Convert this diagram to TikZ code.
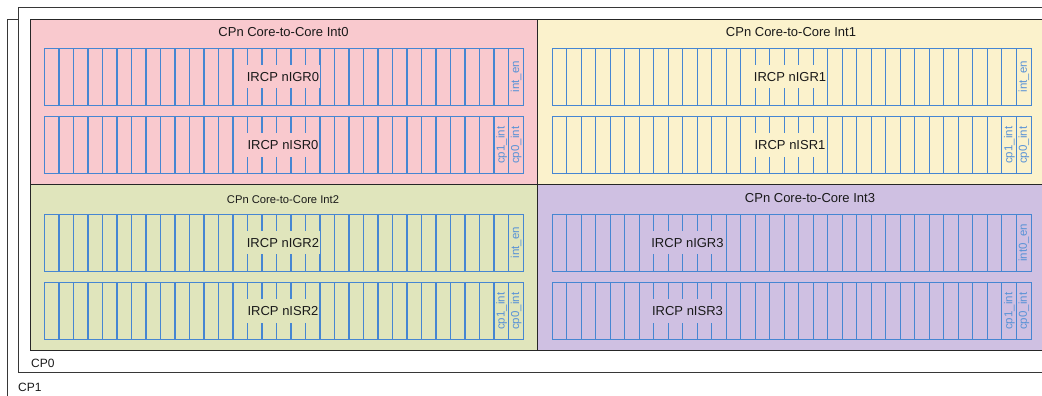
\documentclass[tikz,border=0pt]{standalone}
\usepackage{fontspec}
\setmainfont{Liberation Sans}
\definecolor{qpink}{RGB}{249,201,206}
\definecolor{qyellow}{RGB}{251,242,204}
\definecolor{qgreen}{RGB}{224,229,188}
\definecolor{qpurple}{RGB}{207,192,226}
\definecolor{regblue}{RGB}{70,134,210}
\definecolor{framegray}{RGB}{55,55,55}
\definecolor{txt}{RGB}{25,25,25}
\newcommand\myreg[4]{%
  \node[regbox] (#1) at (#2,#3) {};
  \foreach \i in {1,...,32}
    \draw[bitline] ([xshift=\i*14.5pt]#1.north west) -- ([xshift=\i*14.5pt]#1.south west);
  \draw[regline] (#1.north west) rectangle (#1.south east);
}
\begin{document}
\begin{tikzpicture}[x=1pt,y=-1pt,
  frame/.style={draw=framegray, line width=1.1pt, fill=white, anchor=north west, inner sep=0pt},
  quad/.style={draw=black!85, line width=1.3pt, anchor=north west, inner sep=0pt},
  regbox/.style={anchor=north west, minimum width=478.5pt, minimum height=56.5pt, inner sep=0pt},
  bitline/.style={draw=regblue, line width=1.1pt},
  regline/.style={draw=regblue, line width=1.3pt},
  reglbl/.style={text=txt, inner xsep=1pt, inner ysep=7pt, font=\fontsize{13}{15}\selectfont, text height=9.4pt, text depth=0pt},
  title/.style={text=txt, font=\fontsize{13}{15}\selectfont, inner sep=1pt},
  bitlbl/.style={text=regblue!90, rotate=90, font=\fontsize{11.5}{13}\selectfont, inner sep=0pt},
  cplbl/.style={text=txt, anchor=base west, font=\fontsize{12}{14}\selectfont, inner sep=0pt}]
\clip (0,0) rectangle (1042,396);
\fill[white] (0,0) rectangle (1042,396);
% frames
\node[frame, minimum width=1100pt, minimum height=420pt] (cp1) at (7,19) {};
\node[frame, minimum width=1100pt, minimum height=365pt] (cp0) at (18,7) {};
\node[cplbl] (cp0lbl) at (31,367) {CP0};
\node[cplbl] (cp1lbl) at (18,391) {CP1};
% quadrants
\node[quad, fill=qpink, minimum width=507pt, minimum height=165pt] (q0) at (30,19) {};
\node[quad, fill=qyellow, minimum width=509pt, minimum height=165pt] (q1) at (537,19) {};
\node[quad, fill=qgreen, minimum width=507pt, minimum height=166pt] (q2) at (30,184) {};
\node[quad, fill=qpurple, minimum width=509pt, minimum height=166pt] (q3) at (537,184) {};
% titles
\node[title] (t0) at (283.5,32) {CPn Core-to-Core Int0};
\node[title] (t1) at (791,32) {CPn Core-to-Core Int1};
\node[title, font=\fontsize{11.2}{13}\selectfont] (t2) at (283,199.5) {CPn Core-to-Core Int2};
\node[title] (t3) at (810,198.5) {CPn Core-to-Core Int3};
% registers
\myreg{igr0}{44.5}{48.3}{qpink}
\myreg{isr0}{44.5}{116.8}{qpink}
\myreg{igr1}{552.3}{48.3}{qyellow}
\myreg{isr1}{552.3}{116.8}{qyellow}
\myreg{igr2}{44.5}{214.3}{qgreen}
\myreg{isr2}{44.5}{282.8}{qgreen}
\myreg{igr3}{552.3}{214.3}{qpurple}
\myreg{isr3}{552.3}{282.8}{qpurple}
% register names
\node[reglbl, fill=qpink] (igr0t) at (283,76.5) {IRCP nIGR0};
\node[reglbl, fill=qpink] (isr0t) at (283,145) {IRCP nISR0};
\node[reglbl, fill=qyellow] (igr1t) at (790,76.5) {IRCP nIGR1};
\node[reglbl, fill=qyellow] (isr1t) at (790,145) {IRCP nISR1};
\node[reglbl, fill=qgreen] (igr2t) at (283,242.5) {IRCP nIGR2};
\node[reglbl, fill=qgreen] (isr2t) at (283,311) {IRCP nISR2};
\node[reglbl, fill=qpurple] (igr3t) at (687.5,242.5) {IRCP nIGR3};
\node[reglbl, fill=qpurple] (isr3t) at (687.5,311) {IRCP nISR3};
% bit labels
\node[bitlbl] (igr0b) at ([xshift=-7.25pt]igr0.east) {int\_en};
\node[bitlbl] (isr0a) at ([xshift=-21.75pt]isr0.east) {cp1\_int};
\node[bitlbl] (isr0b) at ([xshift=-7.25pt]isr0.east) {cp0\_int};
\node[bitlbl] (igr1b) at ([xshift=-7.25pt]igr1.east) {int\_en};
\node[bitlbl] (isr1a) at ([xshift=-21.75pt]isr1.east) {cp1\_int};
\node[bitlbl] (isr1b) at ([xshift=-7.25pt]isr1.east) {cp0\_int};
\node[bitlbl] (igr2b) at ([xshift=-7.25pt]igr2.east) {int\_en};
\node[bitlbl] (isr2a) at ([xshift=-21.75pt]isr2.east) {cp1\_int};
\node[bitlbl] (isr2b) at ([xshift=-7.25pt]isr2.east) {cp0\_int};
\node[bitlbl] (igr3b) at ([xshift=-7.25pt]igr3.east) {int0\_en};
\node[bitlbl] (isr3a) at ([xshift=-21.75pt]isr3.east) {cp1\_int};
\node[bitlbl] (isr3b) at ([xshift=-7.25pt]isr3.east) {cp0\_int};
\end{tikzpicture}
\end{document}
